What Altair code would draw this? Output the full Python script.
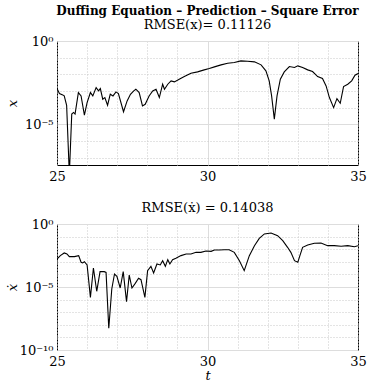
import altair as alt
import pandas as pd
import numpy as np

# top panel: time and log10 of square error of x
t_x = [25.00, 25.08, 25.19, 25.24, 25.32, 25.41, 25.49, 25.55, 25.60, 25.71, 25.80, 25.91,
       26.00, 26.11, 26.19, 26.30, 26.38, 26.44, 26.52, 26.59, 26.68, 26.77, 26.86, 26.96,
       27.04, 27.21, 27.33, 27.44, 27.55, 27.62, 27.73, 27.84, 27.93, 28.06, 28.18, 28.29,
       28.40, 28.51, 28.57, 28.68, 28.79, 28.90, 29.06, 29.23, 29.45, 29.67, 29.89, 30.06,
       30.23, 30.45, 30.67, 30.89, 31.11, 31.33, 31.56, 31.78, 31.94, 32.05, 32.13, 32.22,
       32.31, 32.42, 32.55, 32.72, 32.89, 33.00, 33.16, 33.33, 33.49, 33.66, 33.82, 33.94,
       34.05, 34.19, 34.30, 34.41, 34.52, 34.66, 34.79, 34.90, 35.00]
lg_x = [-2.85, -3.15, -3.23, -3.29, -3.85, -8.00, -4.38, -4.28, -4.38, -3.09, -3.29, -4.44,
        -3.69, -3.09, -3.29, -2.79, -2.99, -2.85, -3.49, -3.39, -3.85, -3.19, -3.29, -3.05,
        -3.15, -4.24, -3.59, -3.19, -2.99, -2.89, -3.09, -3.89, -3.79, -3.29, -2.99, -2.89,
        -3.39, -2.59, -2.89, -2.59, -2.39, -2.45, -2.29, -2.13, -1.93, -1.85, -1.73, -1.65,
        -1.55, -1.43, -1.33, -1.29, -1.19, -1.21, -1.25, -1.43, -1.79, -2.39, -3.29, -4.68,
        -3.29, -2.29, -1.85, -1.53, -1.59, -1.49, -1.59, -1.73, -1.83, -2.13, -2.25, -2.69,
        -3.39, -3.99, -3.45, -3.73, -2.73, -2.59, -2.39, -2.05, -1.95]

# bottom panel: time and log10 of square error of x-dot
t_xd = [25.00, 25.11, 25.24, 25.33, 25.41, 25.58, 25.72, 25.80, 25.85, 25.91, 26.00, 26.11,
        26.21, 26.32, 26.43, 26.57, 26.63, 26.72, 26.82, 26.91, 26.99, 27.10, 27.20, 27.31,
        27.40, 27.49, 27.60, 27.71, 27.79, 27.92, 28.01, 28.12, 28.21, 28.32, 28.43, 28.51,
        28.60, 28.68, 28.75, 28.84, 28.95, 29.12, 29.29, 29.45, 29.62, 29.78, 29.95, 30.12,
        30.23, 30.39, 30.56, 30.72, 30.89, 31.06, 31.22, 31.39, 31.56, 31.72, 31.89, 32.11,
        32.33, 32.50, 32.66, 32.77, 32.89, 33.00, 33.07, 33.16, 33.33, 33.55, 33.77, 33.99,
        34.21, 34.44, 34.66, 34.88, 35.00]
lg_xd = [-2.78, -2.51, -2.30, -2.38, -2.59, -2.59, -2.51, -3.04, -3.09, -2.99, -3.25, -5.82,
         -3.49, -5.34, -3.78, -3.78, -3.84, -8.28, -5.16, -3.97, -4.15, -5.08, -3.78, -6.16,
         -4.05, -5.08, -4.71, -4.31, -4.42, -5.82, -3.70, -3.36, -3.89, -3.17, -3.25, -2.91,
         -3.36, -2.83, -3.17, -2.83, -2.72, -2.51, -2.38, -2.38, -2.25, -2.25, -2.14, -2.17,
         -2.06, -2.06, -2.04, -2.04, -2.25, -2.91, -3.70, -2.51, -1.72, -1.14, -0.79, -0.71,
         -0.93, -1.32, -1.85, -2.25, -2.91, -3.04, -2.51, -1.85, -1.67, -1.53, -1.51, -1.72,
         -1.72, -1.77, -1.72, -1.80, -1.72]

df_x = pd.DataFrame({"t": t_x, "e": np.power(10.0, lg_x)})
df_xd = pd.DataFrame({"t": t_xd, "e": np.power(10.0, lg_xd)})

FONT = "DejaVu Serif"
W = 301

sup_expr = ("round(log(datum.value)/LN10) == 0 ? '10\u2070' : "
            "round(log(datum.value)/LN10) == -5 ? '10\u207b\u2075' : "
            "round(log(datum.value)/LN10) == -10 ? '10\u207b\u00b9\u2070' : ''")
major_y = "round(log(datum.value)/LN10) % 5 == 0"

def yaxis(title, vals):
    return alt.Axis(
        title=title, values=vals, labelExpr=sup_expr, ticks=False, domain=False,
        titleFontStyle="italic", titleFontWeight="normal", titleFontSize=13,
        labelFontSize=13, labelPadding=4, minExtent=32, maxExtent=32, titlePadding=6,
        labelFont=FONT, titleFont=FONT, labelColor="black", titleColor="black",
        gridDash={"condition": {"test": major_y, "value": []}, "value": [1, 2]},
        gridColor={"condition": {"test": major_y, "value": "#dddddd"}, "value": "#c8c8c8"},
        gridWidth=1,
    )

def xaxis(title):
    return alt.Axis(
        title=title, values=list(range(25, 36)),
        labelExpr="datum.value % 5 == 0 ? datum.label : ''",
        ticks=False, domain=False, labelFontSize=13, labelPadding=5, labelFlush=False,
        labelFont=FONT, titleFont=FONT, labelColor="black", titleColor="black",
        titleFontStyle="italic", titleFontWeight="normal", titleFontSize=13, titlePadding=1,
        gridDash={"condition": {"test": "datum.value == 30", "value": []}, "value": [1, 2]},
        gridColor={"condition": {"test": "datum.value == 30", "value": "#dddddd"}, "value": "#c8c8c8"},
    )

top = alt.Chart(df_x).mark_line(color="black", strokeWidth=1.1, clip=True).encode(
    x=alt.X("t:Q", scale=alt.Scale(domain=[25, 35], nice=False), axis=xaxis(None)),
    y=alt.Y("e:Q", scale=alt.Scale(type="log", domain=[10 ** -7.43, 1], nice=False),
            axis=yaxis("x", [10.0 ** -k for k in range(0, 8)])),
).properties(
    width=W, height=124,
    title=alt.TitleParams(
        "Duffing Equation  \u2013  Prediction  \u2013  Square Error",
        subtitle="RMSE(x)= 0.11126", font=FONT, fontSize=12, fontWeight="bold",
        subtitleFont=FONT, subtitleFontSize=13, subtitlePadding=1, anchor="middle",
        offset=2, color="black", subtitleColor="black"),
)

bottom = alt.Chart(df_xd).mark_line(color="black", strokeWidth=1.1, clip=True).encode(
    x=alt.X("t:Q", scale=alt.Scale(domain=[25, 35], nice=False), axis=xaxis("t")),
    y=alt.Y("e:Q", scale=alt.Scale(type="log", domain=[1e-10, 1], nice=False),
            axis=yaxis("\u1e8b", [10.0 ** -k for k in range(0, 11)])),
).properties(
    width=W, height=126,
    title=alt.TitleParams("RMSE(\u1e8b) = 0.14038", font=FONT, fontSize=13, fontWeight="normal",
                          anchor="middle", offset=3, color="black"),
)

chart = alt.vconcat(top, bottom, spacing=17).properties(
    background="white",
    padding={"left": 5, "top": 4, "right": 0, "bottom": 0},
).configure_view(stroke="black", strokeWidth=1)

chart.save("out.html", embed_options={"renderer": "svg", "actions": False})
